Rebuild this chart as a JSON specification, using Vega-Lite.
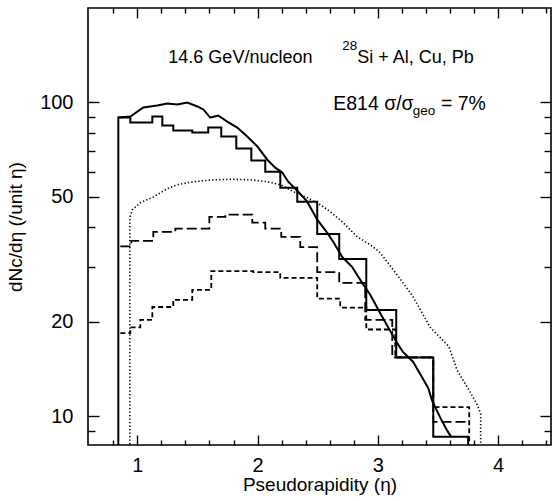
{
  "$schema": "https://vega.github.io/schema/vega-lite/v6.json",
  "autosize": "none",
  "width": 463,
  "height": 437,
  "padding": {"left": 88, "top": 8, "right": 3, "bottom": 56},
  "background": "white",
  "config": {
    "font": "Liberation Sans",
    "view": {"stroke": "black", "strokeWidth": 1.6},
    "axis": {"domain": false, "grid": false, "tickColor": "black", "tickWidth": 1.4, "labelColor": "black", "titleColor": "black", "labelFont": "Liberation Sans", "titleFont": "Liberation Sans", "labelFontSize": 20, "titleFontSize": 19, "titleFontWeight": "normal", "labelOverlap": false, "labelFlush": false}
  },
  "datasets": {
    "solid_hist": [
      {"i": 0, "eta": 0.842, "dn": 5},
      {"i": 1, "eta": 0.842, "dn": 89.5},
      {"i": 2, "eta": 0.942, "dn": 86.4},
      {"i": 3, "eta": 1.125, "dn": 90.2},
      {"i": 4, "eta": 1.208, "dn": 84.5},
      {"i": 5, "eta": 1.299, "dn": 81.4},
      {"i": 6, "eta": 1.457, "dn": 80.2},
      {"i": 7, "eta": 1.590, "dn": 83.2},
      {"i": 8, "eta": 1.698, "dn": 77.9},
      {"i": 9, "eta": 1.823, "dn": 71.3},
      {"i": 10, "eta": 1.948, "dn": 65.3},
      {"i": 11, "eta": 2.064, "dn": 60.2},
      {"i": 12, "eta": 2.189, "dn": 53.5},
      {"i": 13, "eta": 2.330, "dn": 48.3},
      {"i": 14, "eta": 2.496, "dn": 38.1},
      {"i": 15, "eta": 2.679, "dn": 31.7},
      {"i": 16, "eta": 2.904, "dn": 21.8},
      {"i": 17, "eta": 3.153, "dn": 15.4},
      {"i": 18, "eta": 3.461, "dn": 8.6},
      {"i": 19, "eta": 3.751, "dn": 8.6},
      {"i": 20, "eta": 3.751, "dn": 5}
    ],
    "solid_curve": [
      {"i": 1, "eta": 0.842, "dn": 89.5},
      {"i": 2, "eta": 0.942, "dn": 90.2},
      {"i": 3, "eta": 1.050, "dn": 96.4},
      {"i": 4, "eta": 1.166, "dn": 97.8},
      {"i": 5, "eta": 1.249, "dn": 99.3},
      {"i": 6, "eta": 1.333, "dn": 98.5},
      {"i": 7, "eta": 1.416, "dn": 100},
      {"i": 8, "eta": 1.499, "dn": 97.1},
      {"i": 9, "eta": 1.549, "dn": 95.0},
      {"i": 10, "eta": 1.607, "dn": 89.5},
      {"i": 11, "eta": 1.673, "dn": 90.9},
      {"i": 12, "eta": 1.748, "dn": 86.9},
      {"i": 13, "eta": 1.831, "dn": 83.2},
      {"i": 14, "eta": 1.914, "dn": 77.9},
      {"i": 15, "eta": 1.998, "dn": 72.4},
      {"i": 16, "eta": 2.081, "dn": 65.7},
      {"i": 17, "eta": 2.147, "dn": 62.0},
      {"i": 18, "eta": 2.205, "dn": 59.8},
      {"i": 19, "eta": 2.255, "dn": 55.9},
      {"i": 20, "eta": 2.330, "dn": 52.3},
      {"i": 21, "eta": 2.413, "dn": 48.3},
      {"i": 22, "eta": 2.496, "dn": 42.3},
      {"i": 23, "eta": 2.580, "dn": 38.4},
      {"i": 24, "eta": 2.629, "dn": 36.0},
      {"i": 25, "eta": 2.704, "dn": 32.2},
      {"i": 26, "eta": 2.787, "dn": 29.9},
      {"i": 27, "eta": 2.854, "dn": 27.2},
      {"i": 28, "eta": 2.937, "dn": 24.4},
      {"i": 29, "eta": 3.020, "dn": 21.3},
      {"i": 30, "eta": 3.086, "dn": 19.2},
      {"i": 31, "eta": 3.161, "dn": 17.1},
      {"i": 32, "eta": 3.211, "dn": 16.0},
      {"i": 33, "eta": 3.294, "dn": 14.9},
      {"i": 34, "eta": 3.369, "dn": 13.3},
      {"i": 35, "eta": 3.419, "dn": 12.3},
      {"i": 36, "eta": 3.452, "dn": 11.2},
      {"i": 37, "eta": 3.519, "dn": 9.9},
      {"i": 38, "eta": 3.577, "dn": 9.0},
      {"i": 39, "eta": 3.610, "dn": 8.6}
    ],
    "dotted": [
      {"i": 0, "eta": 0.938, "dn": 5},
      {"i": 1, "eta": 0.938, "dn": 42.9},
      {"i": 2, "eta": 0.958, "dn": 45.5},
      {"i": 3, "eta": 1.025, "dn": 47.9},
      {"i": 4, "eta": 1.133, "dn": 50.0},
      {"i": 5, "eta": 1.249, "dn": 53.1},
      {"i": 6, "eta": 1.333, "dn": 54.7},
      {"i": 7, "eta": 1.466, "dn": 55.9},
      {"i": 8, "eta": 1.632, "dn": 56.7},
      {"i": 9, "eta": 1.798, "dn": 56.9},
      {"i": 10, "eta": 1.939, "dn": 56.7},
      {"i": 11, "eta": 2.081, "dn": 55.9},
      {"i": 12, "eta": 2.189, "dn": 54.7},
      {"i": 13, "eta": 2.297, "dn": 52.0},
      {"i": 14, "eta": 2.413, "dn": 49.7},
      {"i": 15, "eta": 2.521, "dn": 47.2},
      {"i": 16, "eta": 2.604, "dn": 44.9},
      {"i": 17, "eta": 2.712, "dn": 41.4},
      {"i": 18, "eta": 2.829, "dn": 37.3},
      {"i": 19, "eta": 2.937, "dn": 35.2},
      {"i": 20, "eta": 3.020, "dn": 33.2},
      {"i": 21, "eta": 3.128, "dn": 29.3},
      {"i": 22, "eta": 3.211, "dn": 26.6},
      {"i": 23, "eta": 3.294, "dn": 24.0},
      {"i": 24, "eta": 3.436, "dn": 19.2},
      {"i": 25, "eta": 3.590, "dn": 16.7},
      {"i": 26, "eta": 3.660, "dn": 14.0},
      {"i": 27, "eta": 3.743, "dn": 12.4},
      {"i": 28, "eta": 3.826, "dn": 10.9},
      {"i": 29, "eta": 3.855, "dn": 10.2},
      {"i": 30, "eta": 3.855, "dn": 5}
    ],
    "long_dash": [
      {"i": 0, "eta": 0.859, "dn": 34.8},
      {"i": 1, "eta": 0.950, "dn": 36.2},
      {"i": 2, "eta": 1.133, "dn": 38.7},
      {"i": 3, "eta": 1.316, "dn": 39.6},
      {"i": 4, "eta": 1.599, "dn": 43.2},
      {"i": 5, "eta": 1.732, "dn": 43.9},
      {"i": 6, "eta": 1.956, "dn": 41.4},
      {"i": 7, "eta": 2.064, "dn": 39.6},
      {"i": 8, "eta": 2.197, "dn": 37.3},
      {"i": 9, "eta": 2.355, "dn": 34.6},
      {"i": 10, "eta": 2.496, "dn": 28.8},
      {"i": 11, "eta": 2.679, "dn": 26.6},
      {"i": 12, "eta": 2.895, "dn": 20.3},
      {"i": 13, "eta": 3.120, "dn": 15.4},
      {"i": 14, "eta": 3.461, "dn": 9.6},
      {"i": 15, "eta": 3.751, "dn": 9.6}
    ],
    "short_dash": [
      {"i": 0, "eta": 0.859, "dn": 18.4},
      {"i": 1, "eta": 0.942, "dn": 19.2},
      {"i": 2, "eta": 1.025, "dn": 20.3},
      {"i": 3, "eta": 1.125, "dn": 22.3},
      {"i": 4, "eta": 1.299, "dn": 23.5},
      {"i": 5, "eta": 1.457, "dn": 25.3},
      {"i": 6, "eta": 1.615, "dn": 29.0},
      {"i": 7, "eta": 1.964, "dn": 28.8},
      {"i": 8, "eta": 2.189, "dn": 27.6},
      {"i": 9, "eta": 2.496, "dn": 23.7},
      {"i": 10, "eta": 2.687, "dn": 22.2},
      {"i": 11, "eta": 2.904, "dn": 18.9},
      {"i": 12, "eta": 3.145, "dn": 15.4},
      {"i": 13, "eta": 3.461, "dn": 10.7},
      {"i": 14, "eta": 3.760, "dn": 10.7},
      {"i": 15, "eta": 3.760, "dn": 5}
    ],
    "labels_line1": [
      {"eta": 1.258, "dn": 134, "text": "14.6 GeV/nucleon"},
      {"eta": 2.829, "dn": 134, "text": "Si + Al, Cu, Pb"}
    ],
    "labels_line2": [
      {"eta": 2.629, "dn": 94.3, "text": "E814 σ/σ"},
      {"eta": 3.525, "dn": 94.3, "text": "= 7%"}
    ],
    "labels_small": [
      {"eta": 2.704, "dn": 146.6, "text": "28"},
      {"eta": 3.29, "dn": 90.9, "text": "geo"}
    ]
  },
  "resolve": {"axis": {"x": "independent", "y": "independent"}},
  "layer": [
    {
      "data": {"name": "solid_hist"},
      "mark": {"type": "line", "interpolate": "step-after", "color": "black", "strokeWidth": 2, "clip": true},
      "encoding": {
        "x": {"field": "eta", "type": "quantitative", "scale": {"domain": [0.59, 4.44], "nice": false, "zero": false},
          "axis": {"orient": "bottom", "title": "Pseudorapidity (η)", "values": [1, 2, 3, 4], "format": "d",
            "tickSize": -10, "labelPadding": 20, "titlePadding": 0}},
        "y": {"field": "dn", "type": "quantitative", "scale": {"type": "log", "domain": [8.1, 200], "nice": false},
          "axis": {"orient": "left", "title": "dNc/dη (/unit η)", "values": [10, 20, 50, 100], "format": "d",
            "tickSize": -11, "labelPadding": 26, "titlePadding": 14}},
        "order": {"field": "i", "type": "quantitative"}
      }
    },
    {
      "data": {"name": "solid_curve"},
      "mark": {"type": "line", "color": "black", "strokeWidth": 2, "clip": true},
      "encoding": {
        "x": {"field": "eta", "type": "quantitative",
          "axis": {"orient": "top", "title": null, "labels": false, "values": [1, 2, 3, 4], "tickSize": -10}},
        "y": {"field": "dn", "type": "quantitative",
          "axis": {"orient": "right", "title": null, "labels": false, "values": [10, 20, 50, 100], "tickSize": -11}},
        "order": {"field": "i", "type": "quantitative"}
      }
    },
    {
      "data": {"name": "dotted"},
      "mark": {"type": "line", "color": "black", "strokeWidth": 1.6, "strokeDash": [1.3, 2.2], "clip": true},
      "encoding": {
        "x": {"field": "eta", "type": "quantitative",
          "axis": {"orient": "bottom", "title": null, "labels": false, "values": [0.8, 1.2, 1.4, 1.6, 1.8, 2.2, 2.4, 2.6, 2.8, 3.2, 3.4, 3.6, 3.8, 4.2, 4.4], "tickSize": -5}},
        "y": {"field": "dn", "type": "quantitative",
          "axis": {"orient": "left", "title": null, "labels": false, "values": [9, 30, 40, 60, 70, 80, 90], "tickSize": -7}},
        "order": {"field": "i", "type": "quantitative"}
      }
    },
    {
      "data": {"name": "long_dash"},
      "mark": {"type": "line", "interpolate": "step-after", "color": "black", "strokeWidth": 1.8, "strokeDash": [10, 4], "clip": true},
      "encoding": {
        "x": {"field": "eta", "type": "quantitative",
          "axis": {"orient": "top", "title": null, "labels": false, "values": [0.8, 1.2, 1.4, 1.6, 1.8, 2.2, 2.4, 2.6, 2.8, 3.2, 3.4, 3.6, 3.8, 4.2, 4.4], "tickSize": -5}},
        "y": {"field": "dn", "type": "quantitative",
          "axis": {"orient": "right", "title": null, "labels": false, "values": [9, 30, 40, 60, 70, 80, 90], "tickSize": -7}},
        "order": {"field": "i", "type": "quantitative"}
      }
    },
    {
      "data": {"name": "short_dash"},
      "mark": {"type": "line", "interpolate": "step-after", "color": "black", "strokeWidth": 1.8, "strokeDash": [5, 3], "clip": true},
      "encoding": {
        "x": {"field": "eta", "type": "quantitative", "axis": null},
        "y": {"field": "dn", "type": "quantitative", "axis": null},
        "order": {"field": "i", "type": "quantitative"}
      }
    },
    {
      "data": {"name": "labels_line1"},
      "mark": {"type": "text", "align": "left", "baseline": "alphabetic", "fontSize": 18, "font": "Liberation Sans", "color": "black"},
      "encoding": {
        "x": {"field": "eta", "type": "quantitative", "axis": null},
        "y": {"field": "dn", "type": "quantitative", "axis": null},
        "text": {"field": "text"}
      }
    },
    {
      "data": {"name": "labels_line2"},
      "mark": {"type": "text", "align": "left", "baseline": "alphabetic", "fontSize": 19.5, "font": "Liberation Sans", "color": "black"},
      "encoding": {
        "x": {"field": "eta", "type": "quantitative", "axis": null},
        "y": {"field": "dn", "type": "quantitative", "axis": null},
        "text": {"field": "text"}
      }
    },
    {
      "data": {"name": "labels_small"},
      "mark": {"type": "text", "align": "left", "baseline": "alphabetic", "fontSize": 13.5, "font": "Liberation Sans", "color": "black"},
      "encoding": {
        "x": {"field": "eta", "type": "quantitative", "axis": null},
        "y": {"field": "dn", "type": "quantitative", "axis": null},
        "text": {"field": "text"}
      }
    }
  ]
}
